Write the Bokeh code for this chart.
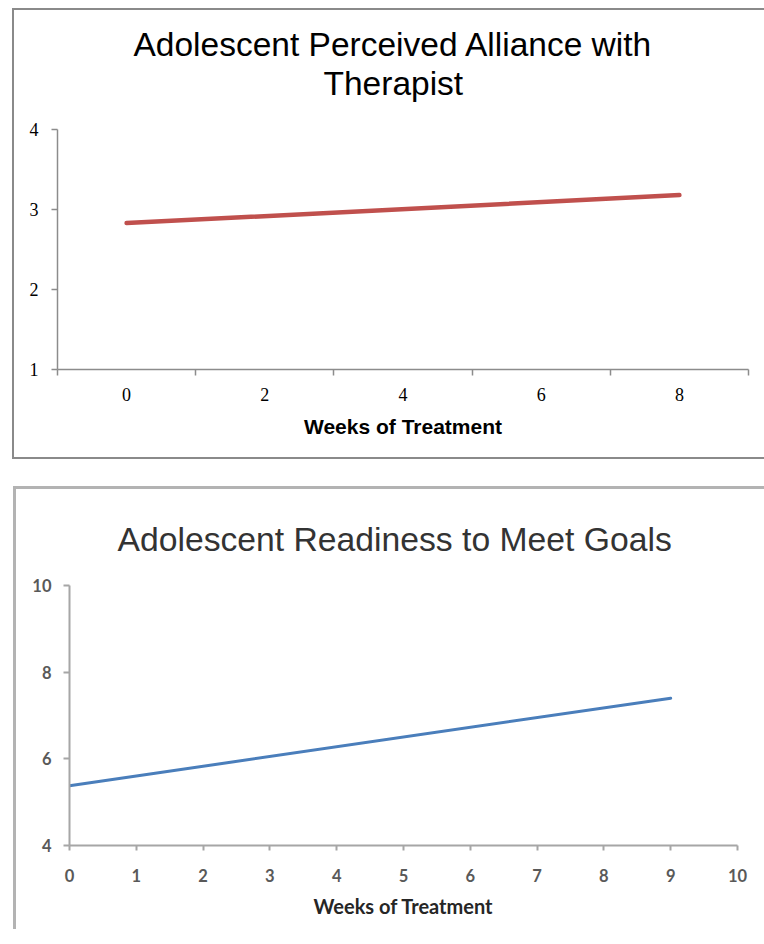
from bokeh.plotting import figure
from bokeh.models import Range1d, FixedTicker, Title
from bokeh.layouts import column
from bokeh.embed import file_html
from bokeh.resources import INLINE

# ---------------- data: top chart ----------------
alliance_title_1 = "Adolescent Perceived Alliance with"
alliance_title_2 = "Therapist"
alliance_weeks = [0, 8]
alliance_scores = [2.83, 3.18]
alliance_x_labels = [0, 2, 4, 6, 8]
alliance_x_ticks = [-1, 1, 3, 5, 7, 9]
alliance_y_ticks = [1, 2, 3, 4]

# ---------------- data: bottom chart ----------------
readiness_title = "Adolescent Readiness to Meet Goals"
readiness_weeks = [0, 9]
readiness_scores = [5.38, 7.40]
readiness_x_ticks = [0, 1, 2, 3, 4, 5, 6, 7, 8, 9, 10]
readiness_y_ticks = [4, 6, 8, 10]

x_title = "Weeks of Treatment"

# ---------------- top chart ----------------
p1 = figure(width=752, height=451,
            x_range=Range1d(alliance_x_ticks[0], alliance_x_ticks[-1]),
            y_range=Range1d(alliance_y_ticks[0], alliance_y_ticks[-1]),
            output_backend="svg", toolbar_location=None,
            min_border_left=43, min_border_right=18,
            min_border_top=119, min_border_bottom=92)
p1.frame_align = False
p1.title.text = alliance_title_1
p1.title.align = "left"
p1.title.offset = 76
p1.title.text_font = "Liberation Sans"
p1.title.text_font_style = "normal"
p1.title.text_font_size = "33.5px"
p1.title.text_color = "#000000"
p1.title.standoff = -54
t2 = Title(text=alliance_title_2, align="left", offset=266,
           text_font="Liberation Sans", text_font_style="normal",
           text_font_size="33.5px", text_color="#000000", standoff=55)
p1.add_layout(t2, "above")
p1.outline_line_color = None
p1.xgrid.visible = False
p1.ygrid.visible = False
p1.background_fill_color = "white"
p1.border_fill_color = "white"

p1.line(alliance_weeks, alliance_scores, line_color="#c0504d",
        line_width=4.5, line_cap="round")

ax = p1.xaxis[0]
ax.ticker = FixedTicker(ticks=alliance_x_labels, minor_ticks=alliance_x_ticks)
ax.major_tick_out = 0
ax.major_tick_in = 0
ax.minor_tick_out = 6
ax.minor_tick_in = 0
ax.axis_line_color = "#8c8c8c"
ax.axis_line_width = 1.5
ax.minor_tick_line_color = "#8c8c8c"
ax.minor_tick_line_width = 1.5
ax.major_label_text_font = "Liberation Serif"
ax.major_label_text_font_size = "18px"
ax.major_label_text_color = "#000000"
ax.major_label_standoff = 12
ax.axis_label = x_title
ax.axis_label_text_font = "Liberation Sans"
ax.axis_label_text_font_style = "bold"
ax.axis_label_text_font_size = "21px"
ax.axis_label_text_color = "#000000"
ax.axis_label_standoff = 11

ay = p1.yaxis[0]
ay.ticker = FixedTicker(ticks=alliance_y_ticks, minor_ticks=[])
ay.major_tick_out = 6
ay.major_tick_in = 0
ay.minor_tick_out = 0
ay.minor_tick_in = 0
ay.axis_line_color = "#8c8c8c"
ay.axis_line_width = 1.5
ay.major_tick_line_color = "#8c8c8c"
ay.major_tick_line_width = 1.5
ay.major_label_text_font = "Liberation Serif"
ay.major_label_text_font_size = "18px"
ay.major_label_text_color = "#000000"
ay.major_label_standoff = 13

p1.styles = {"border-left": "2px solid #8a8a8a",
             "border-top": "2px solid #8a8a8a",
             "border-bottom": "2px solid #8a8a8a",
             "border-right": "0px solid transparent"}
p1.margin = (8, 0, 0, 12)

# ---------------- bottom chart ----------------
p2 = figure(width=751, height=443,
            x_range=Range1d(readiness_x_ticks[0], readiness_x_ticks[-1]),
            y_range=Range1d(readiness_y_ticks[0], readiness_y_ticks[-1]),
            output_backend="svg", toolbar_location=None,
            min_border_left=53, min_border_right=30,
            min_border_top=93, min_border_bottom=87)
p2.frame_align = False
p2.title.text = readiness_title
p2.title.align = "left"
p2.title.offset = 48
p2.title.text_font = "Liberation Sans"
p2.title.text_font_style = "normal"
p2.title.text_font_size = "33.7px"
p2.title.text_color = "#333333"
p2.title.standoff = 56
p2.outline_line_color = None
p2.xgrid.visible = False
p2.ygrid.visible = False
p2.background_fill_color = "white"
p2.border_fill_color = "white"

p2.line(readiness_weeks, readiness_scores, line_color="#4a7ebb",
        line_width=3, line_cap="round")

bx = p2.xaxis[0]
bx.ticker = FixedTicker(ticks=readiness_x_ticks, minor_ticks=[])
bx.major_tick_out = 5
bx.major_tick_in = 0
bx.minor_tick_out = 0
bx.minor_tick_in = 0
bx.axis_line_color = "#a6a6a6"
bx.axis_line_width = 2
bx.major_tick_line_color = "#a6a6a6"
bx.major_tick_line_width = 2
bx.major_label_text_font = "Lato"
bx.major_label_text_font_style = "bold"
bx.major_label_text_font_size = "16.5px"
bx.major_label_text_color = "#595959"
bx.major_label_standoff = 18
bx.axis_label = x_title
bx.axis_label_text_font = "Lato"
bx.axis_label_text_font_style = "bold"
bx.axis_label_text_font_size = "20px"
bx.axis_label_text_color = "#262626"
bx.axis_label_standoff = 9

by = p2.yaxis[0]
by.ticker = FixedTicker(ticks=readiness_y_ticks, minor_ticks=[])
by.major_tick_out = 6
by.major_tick_in = 0
by.minor_tick_out = 0
by.minor_tick_in = 0
by.axis_line_color = "#a6a6a6"
by.axis_line_width = 2
by.major_tick_line_color = "#a6a6a6"
by.major_tick_line_width = 2
by.major_label_text_font = "Lato"
by.major_label_text_font_style = "bold"
by.major_label_text_font_size = "16.5px"
by.major_label_text_color = "#595959"
by.major_label_standoff = 12

p2.styles = {"border-left": "3px solid #b3b3b3",
             "border-top": "3px solid #b3b3b3",
             "border-right": "0px solid transparent",
             "border-bottom": "0px solid transparent"}
p2.margin = (27, 0, 0, 13)

layout = column(p1, p2)
open("out.html", "w").write(file_html(layout, INLINE))
